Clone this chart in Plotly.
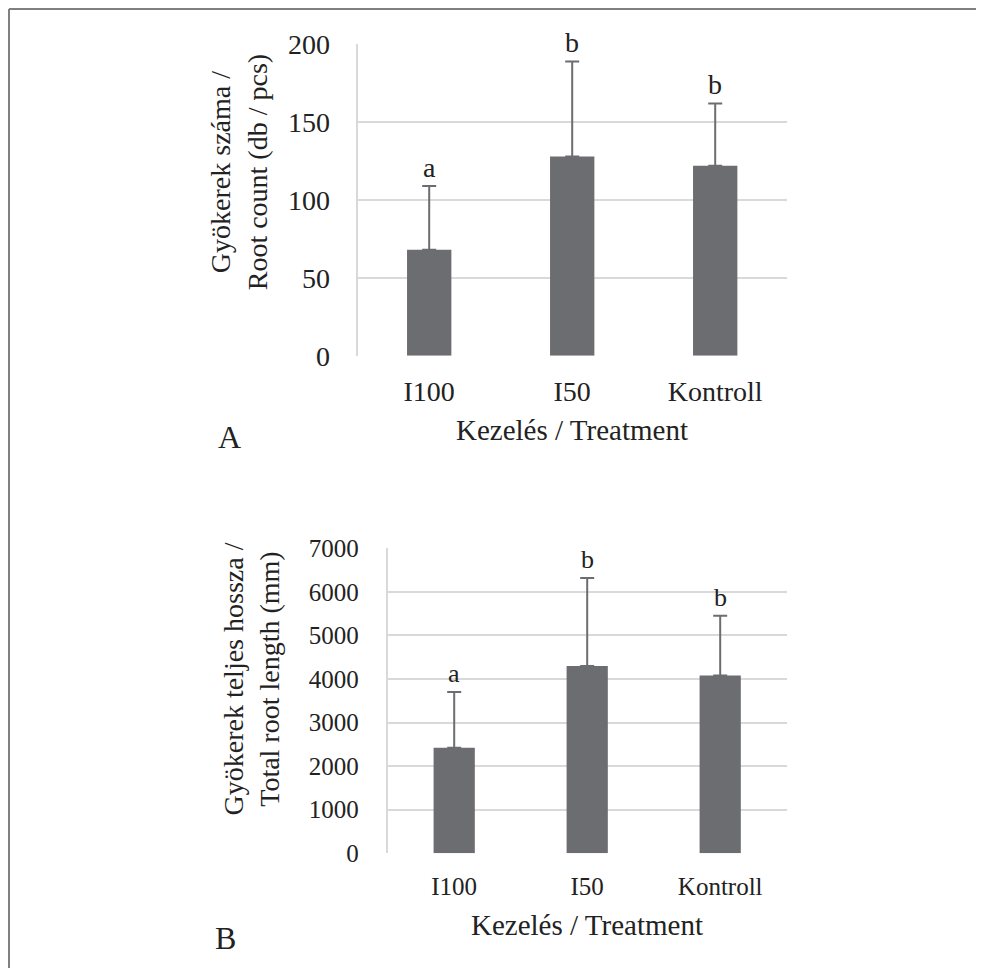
import plotly.graph_objects as go

# The page body has an 8px default margin, so the figure is 976x960 and
# reference pixel coordinates are shifted by 8px.
OFF = 8
W, H = 984 - OFF, 968 - OFF

categories = ["I100", "I50", "Kontroll"]

# Panel A: root count
count_means = [68, 128, 122]
count_err = [41, 61, 40]
count_letters = ["a", "b", "b"]
count_ticks = [0, 50, 100, 150, 200]

# Panel B: total root length
length_means = [2420, 4300, 4080]
length_err = [1280, 2020, 1370]
length_letters = ["a", "b", "b"]
length_ticks = [0, 1000, 2000, 3000, 4000, 5000, 6000, 7000]

FONT = "Liberation Serif"
TXT = "#222222"
BAR = "#6c6d71"
GRID = "#d9d9d9"


def px(x):
    return (x - OFF) / W


def py(y):
    return 1 - (y - OFF) / H


def note(x, y, text, size, angle=0):
    return dict(x=px(x), y=py(y), xref="paper", yref="paper", text=text,
                showarrow=False, xanchor="center", yanchor="middle",
                textangle=angle, font=dict(family=FONT, size=size, color=TXT))


fig = go.Figure()

fig.add_trace(go.Bar(
    x=categories, y=count_means, width=0.31, marker_color=BAR,
    marker_line_width=0,
    error_y=dict(type="data", array=count_err, symmetric=False,
                 arrayminus=[0, 0, 0], color=BAR, thickness=2, width=7),
    xaxis="x", yaxis="y", showlegend=False))

fig.add_trace(go.Bar(
    x=categories, y=length_means, width=0.31, marker_color=BAR,
    marker_line_width=0,
    error_y=dict(type="data", array=length_err, symmetric=False,
                 arrayminus=[0, 0, 0], color=BAR, thickness=2, width=7),
    xaxis="x2", yaxis="y2", showlegend=False))

annotations = []
for c, m, e, t in zip(categories, count_means, count_err, count_letters):
    annotations.append(dict(x=c, y=m + e, xref="x", yref="y", text=t,
                            showarrow=False, xanchor="center", yanchor="bottom",
                            yshift=1, font=dict(family=FONT, size=28, color=TXT)))
for c, m, e, t in zip(categories, length_means, length_err, length_letters):
    annotations.append(dict(x=c, y=m + e, xref="x2", yref="y2", text=t,
                            showarrow=False, xanchor="center", yanchor="bottom",
                            yshift=2, font=dict(family=FONT, size=26, color=TXT)))

annotations += [
    note(571.7, 430, "Kezelés / Treatment", 29),
    note(238.3, 172, "Gyökerek száma /<br>Root count (db / pcs)", 28, -90),
    note(229, 437, "A", 32),
    note(586.7, 925, "Kezelés / Treatment", 29),
    note(250.5, 679, "Gyökerek teljes hossza /<br>Total root length (mm)", 28, -90),
    note(225, 938, "B", 32),
]

fig.update_layout(
    template="none",
    width=W, height=H, autosize=False,
    margin=dict(l=0, r=0, t=0, b=0, pad=0),
    paper_bgcolor="white", plot_bgcolor="white",
    annotations=annotations,
    xaxis=dict(domain=[px(357.7), px(786.7)], anchor="y", range=[-0.5, 2.5],
               showline=False, showgrid=False, zeroline=False, ticks="",
               automargin=False, ticklabelstandoff=16,
               tickfont=dict(family=FONT, size=28, color=TXT)),
    yaxis=dict(domain=[py(355.7), py(44.3)], anchor="x", range=[0, 200],
               tickvals=count_ticks, showline=True, linecolor=GRID, linewidth=2,
               showgrid=True, gridcolor=GRID, gridwidth=2, zeroline=False,
               ticks="", automargin=False, ticklabelstandoff=20,
               tickfont=dict(family=FONT, size=28, color=TXT)),
    xaxis2=dict(domain=[px(387.7), px(786.7)], anchor="y2", range=[-0.5, 2.5],
                showline=False, showgrid=False, zeroline=False, ticks="",
                automargin=False, ticklabelstandoff=16,
                tickfont=dict(family=FONT, size=25, color=TXT)),
    yaxis2=dict(domain=[py(853.3), py(548.3)], anchor="x2", range=[0, 7000],
                tickvals=length_ticks, showline=True, linecolor=GRID, linewidth=2,
                showgrid=True, gridcolor=GRID, gridwidth=2, zeroline=False,
                ticks="", automargin=False, ticklabelstandoff=22,
                tickfont=dict(family=FONT, size=25, color=TXT)),
    shapes=[
        dict(type="line", xref="paper", yref="paper", x0=px(9), x1=1.0,
             y0=py(9), y1=py(9), line=dict(color="#808080", width=2), layer="above"),
        dict(type="line", xref="paper", yref="paper", x0=px(9), x1=px(9),
             y0=py(9), y1=0, line=dict(color="#808080", width=2), layer="above"),
    ],
)

fig.write_html("out.html")
